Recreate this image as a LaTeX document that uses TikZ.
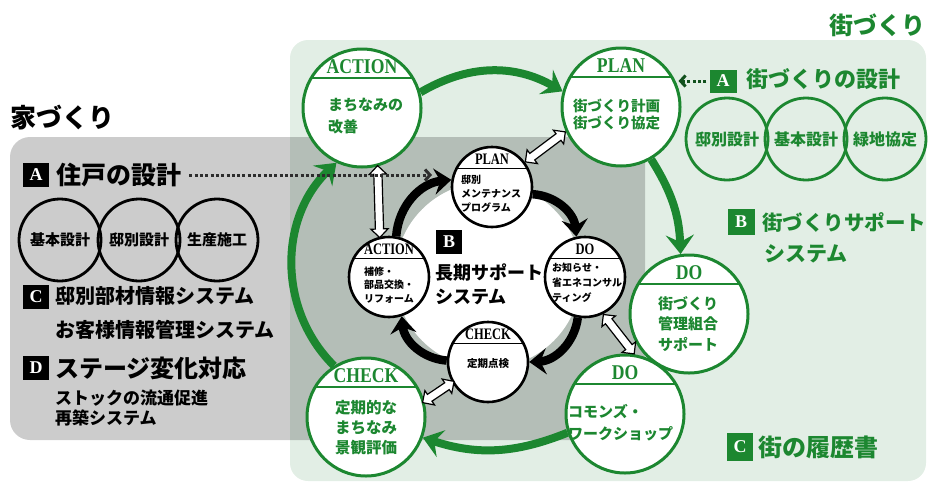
\documentclass[tikz,border=0pt]{standalone}
\usepackage{graphicx}
\usepackage{fontspec}
\setmainfont{Liberation Serif}
\newfontfamily\jp{Noto Sans CJK JP}
\usetikzlibrary{arrows.meta,shapes.arrows,calc}
\definecolor{gr}{RGB}{28,135,48}
\definecolor{gpanel}{RGB}{226,238,229}
\definecolor{dotc}{RGB}{45,45,45}
\newcommand{\setfs}[2]{\fontsize{#1}{#2}\selectfont}
\newcommand{\ghdtxt}[1]{\scalebox{0.84}[1]{#1}}
\newcommand{\bhdtxt}[1]{\scalebox{0.78}[1]{#1}}
\newcommand{\gstage}[4]{%
  \node[gbig] (#1) at (#2,#3) {};
  \node[ghd] (#1-h) at ([yshift=41.5pt]#1.center) {\ghdtxt{#4}};}
\newcommand{\bstage}[4]{%
  \node[bsmall] (#1) at (#2,#3) {};
  \node[bhd] (#1-h) at ([yshift=28pt]#1.center) {\bhdtxt{#4}};}
\begin{document}
\begin{tikzpicture}[x=1pt,y=-1pt,
  gbig/.style={circle, draw=gr, line width=3pt, fill=white, minimum size=118pt, inner sep=0pt,
    path picture={\draw[gr,line width=2.5pt] ([xshift=-80pt,yshift=30pt]path picture bounding box.center) -- ([xshift=80pt,yshift=30pt]path picture bounding box.center);}},
  bsmall/.style={circle, draw=black, line width=2.6pt, fill=white, minimum size=80pt, inner sep=0pt,
    path picture={\draw[black,line width=1.6pt] ([xshift=-50pt,yshift=18.5pt]path picture bounding box.center) -- ([xshift=50pt,yshift=18.5pt]path picture bounding box.center);}},
  ghd/.style={text=gr, font=\bfseries\setfs{21}{21}, inner sep=0pt},
  bhd/.style={text=black, font=\bfseries\setfs{16}{16}, inner sep=0pt},
  gbody/.style={text=gr, inner sep=0pt, align=left, anchor=north west},
  bbody/.style={text=black, inner sep=0pt, align=left, anchor=north west},
  ring/.style={circle, line width=2.8pt, minimum size=82pt, inner sep=0pt},
  lbox/.style={fill=black, text=white, font=\bfseries\setfs{18}{18}, minimum width=26pt, minimum height=24pt, inner sep=0pt},
  gbox/.style={lbox, fill=gr},
  jtxt/.style={anchor=west, inner sep=0pt},
  garr/.style={draw=gr, line width=8pt, -{Stealth[length=19pt,width=28pt,inset=7pt]}},
  barr/.style={draw=black, line width=8.5pt, -{Stealth[length=17pt,width=26pt,inset=6pt]}},
  dbl/.style={double arrow, draw=black, fill=white, line width=1.2pt, inner xsep=0pt, inner ysep=3.5pt, double arrow head extend=4.5pt, sloped},
  dotarr/.style={draw=dotc, line width=3pt, dash pattern=on 3pt off 2.3pt, -{Straight Barb[length=5pt,width=11pt]}},
  gdotarr/.style={dotarr, draw=gr!60!black}
]
\useasboundingbox (0,0) rectangle (931,485);
% panels
\fill[gpanel, rounded corners=18pt] (290,40) rectangle (926,481);
\fill[black, opacity=0.2, rounded corners=20pt] (10,137) rectangle (645,440);
\fill[white] (488,275) circle[radius=93pt];

% titles
\node[jtxt, text=gr, font=\jp\bfseries\setfs{24}{24}] (tmachi) at (829,25) {街づくり};
\node[jtxt, font=\jp\bfseries\setfs{26}{26}] (tie) at (10,118) {家づくり};

% big green cycle
\gstage{gaction}{362}{108}{ACTION}
\gstage{gplan}{621}{107}{PLAN}
\gstage{gdor}{689}{314}{DO}
\gstage{gdob}{625}{414}{DO}
\gstage{gcheck}{366}{417}{CHECK}

\draw[garr] (gaction.15) to[bend left=30] (gplan.165);
\draw[garr] (gplan.-60) to[bend left=15] (gdor.98);
\draw[garr] (gdob.198) to[bend left=20] (gcheck.-20);
\draw[garr] (gcheck.122) to[bend left=46] (gaction.-115);

\node[gbody, font=\jp\bfseries\setfs{15}{22}] (gaction-b) at (328,98.2) {まちなみの\\改善};
\node[gbody, font=\jp\bfseries\setfs{14.5}{17.5}] (gplan-b) at (573,98.5) {街づくり計画\\街づくり協定};
\node[gbody, align=center, anchor=north, font=\jp\bfseries\setfs{15}{20.5}] (gdor-b) at (688,296.2) {街づくり\\管理組合\\サポート};
\node[gbody, font=\jp\bfseries\setfs{15}{22}] (gdob-b) at (568,404.2) {コモンズ・\\ワークショップ};
\node[gbody, font=\jp\bfseries\setfs{15.5}{20}] (gcheck-b) at (335,400) {定期的な\\まちなみ\\景観評価};

% inner black cycle
\bstage{bplan}{492}{187}{PLAN}
\bstage{bdo}{585}{277}{DO}
\bstage{baction}{389}{277}{ACTION}
\bstage{bcheck}{488}{362}{CHECK}

\draw[barr] (baction.80) to[bend left=40] (bplan.170);
\draw[barr] (bplan.-10) to[bend left=40] (bdo.102);
\draw[barr] (bdo.-100) to[bend left=40] (bcheck.0);
\draw[barr] (bcheck.178) to[bend left=40] (baction.-72);

\node[bbody, font=\jp\bfseries\setfs{10}{14.3}] (bplan-b) at (461,174.5) {邸別\\メンテナンス\\プログラム};
\node[bbody, font=\jp\bfseries\setfs{10}{14.8}] (bdo-b) at (552,263) {お知らせ・\\省エネコンサル\\ティング};
\node[bbody, font=\jp\bfseries\setfs{10}{13.5}] (baction-b) at (364,266.5) {補修・\\部品交換・\\リフォーム};
\node[inner sep=0pt, font=\jp\bfseries\setfs{10.5}{10.5}] (bcheck-b) at (488,364) {定期点検};

\node[lbox] (bB) at (449,242) {B};
\node[jtxt, font=\jp\bfseries\setfs{18}{18}] (bB1) at (435,273) {長期サポート};
\node[jtxt, font=\jp\bfseries\setfs{18}{18}] (bB2) at (435,297) {システム};

% white double arrows
\path (gplan.204) -- node[dbl, minimum height=50pt] (d1) {} (bplan.37);
\path (gaction.-75) -- node[dbl, minimum height=72pt] (d2) {} (baction.103);
\path (bdo.-64) -- node[dbl, minimum height=50pt] (d3) {} (gdob.81);
\path (gcheck.15) -- node[dbl, minimum height=38pt] (d4) {} (bcheck.210);

% left column
\node[lbox] (lA) at (36,175) {A};
\node[jtxt, font=\jp\bfseries\setfs{25}{25}] (lAt) at (56,175) {住戸の設計};
\node[ring, draw=black, font=\jp\bfseries\setfs{15}{15}] (l1) at (60,240) {基本設計};
\node[ring, draw=black, font=\jp\bfseries\setfs{15}{15}] (l2) at (139,240) {邸別設計};
\node[ring, draw=black, font=\jp\bfseries\setfs{15}{15}] (l3) at (217,240) {生産施工};
\node[lbox] (lC) at (36,297) {C};
\node[jtxt, font=\jp\bfseries\setfs{20}{20}] (lC1) at (55,296) {邸別部材情報システム};
\node[jtxt, font=\jp\bfseries\setfs{20}{20}] (lC2) at (55,330) {お客様情報管理システム};
\node[lbox] (lD) at (36,368) {D};
\node[jtxt, font=\jp\bfseries\setfs{24}{24}] (lDt) at (55,368) {ステージ変化対応};
\node[jtxt, font=\jp\bfseries\setfs{17}{17}] (lD1) at (55,398) {ストックの流通促進};
\node[jtxt, font=\jp\bfseries\setfs{17}{17}] (lD2) at (55,418) {再築システム};
\coordinate (dotend) at (432,175);
\draw[dotarr] ([xshift=8pt]lAt.east) -- (dotend);

% right column
\node[gbox, minimum width=27pt, minimum height=23pt] (rA) at (723,81) {A};
\node[jtxt, text=gr, font=\jp\bfseries\setfs{22}{22}] (rAt) at (746,79) {街づくりの設計};
\draw[gdotarr] ([xshift=-3pt]rA.west) -- ([xshift=-3pt]rA.west -| gplan.east);
\node[ring, draw=gr, text=gr, font=\jp\bfseries\setfs{16}{16}] (r1) at (727,139) {邸別設計};
\node[ring, draw=gr, text=gr, font=\jp\bfseries\setfs{16}{16}] (r2) at (806,139) {基本設計};
\node[ring, draw=gr, text=gr, font=\jp\bfseries\setfs{16}{16}] (r3) at (885,139) {緑地協定};
\node[gbox, minimum width=27pt, minimum height=26pt] (rB) at (741,222) {B};
\node[jtxt, text=gr, font=\jp\bfseries\setfs{20.5}{20.5}] (rB1) at (762,222) {街づくりサポート};
\node[jtxt, text=gr, font=\jp\bfseries\setfs{21}{21}] (rB2) at (764,254) {システム};
\node[gbox, minimum width=26pt, minimum height=28pt] (rC) at (740,447) {C};
\node[jtxt, text=gr, font=\jp\bfseries\setfs{24}{24}] (rCt) at (758,447) {街の履歴書};
\end{tikzpicture}
\end{document}
